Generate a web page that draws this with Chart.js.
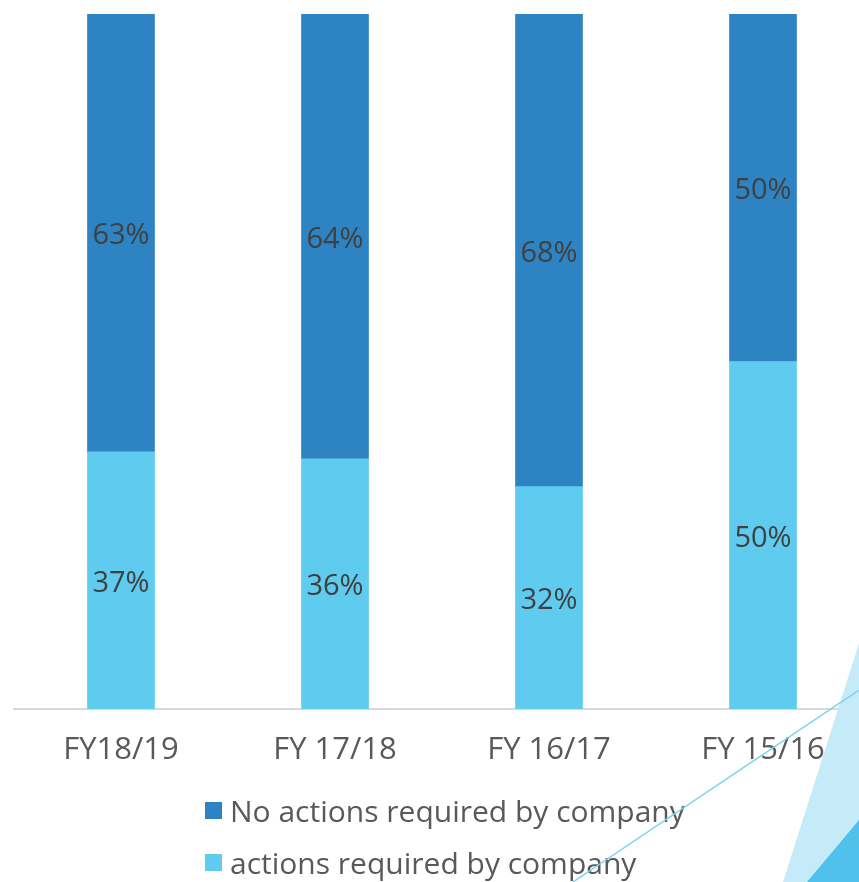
<!DOCTYPE html>
<html>
<head>
<meta charset="utf-8">
<script src="https://cdn.jsdelivr.net/npm/chart.js@4.4.1/dist/chart.umd.min.js"></script>
<style>
  html, body { margin: 0; padding: 0; background: #fff; overflow: hidden; }
  #wrap { position: relative; width: 859px; height: 882px; overflow: hidden; }
  #chart { position: absolute; left: 0; top: 0; }
  #legend { position: absolute; left: 205px; top: 790px; font-family: "Open Sans", sans-serif; font-size: 30px; color: #595959; }
  .item { display: flex; align-items: center; height: 40px; margin-bottom: 12px; }
  .box { width: 17px; height: 17px; margin-right: 8px; }
  #deco { position: absolute; left: 0; top: 0; pointer-events: none; }
</style>
</head>
<body>
<div id="wrap">
  <canvas id="chart" width="884" height="882"></canvas>
  <div id="legend"></div>
  <svg id="deco" width="859" height="882">
    <polygon points="859,643 783,882 859,882" fill="#C6EBF8"/>
    <polygon points="859,820 807,882 859,882" fill="#4FC1EA"/>
    <line x1="573" y1="882" x2="859" y2="690" stroke="#7FD2F0" stroke-width="1.5"/>
  </svg>
</div>
<script>
// --- data ---
const years = ['FY18/19', 'FY 17/18', 'FY 16/17', 'FY 15/16'];
const actionsRequired = [37, 36, 32, 50];
const noActionsRequired = [63, 64, 68, 50];

const DARK = '#2E83C3';
const LIGHT = '#5ECBEF';

// draws the % values in the middle of each segment
const segmentLabels = {
    id: 'segmentLabels',
    afterDatasetsDraw(chart) {
        const ctx = chart.ctx;
        ctx.save();
        ctx.font = '29px "Open Sans", sans-serif';
        ctx.fillStyle = '#404040';
        ctx.textAlign = 'center';
        ctx.textBaseline = 'middle';
        chart.data.datasets.forEach((ds, i) => {
            chart.getDatasetMeta(i).data.forEach((bar, j) => {
                ctx.fillText(ds.data[j] + '%', bar.x, (bar.y + bar.base) / 2 + 3);
            });
        });
        ctx.restore();
    }
};

const chart = new Chart(document.getElementById('chart').getContext('2d'), {
    type: 'bar',
    data: {
        labels: years,
        datasets: [{
            label: 'actions required by company',
            data: actionsRequired,
            backgroundColor: LIGHT
        }, {
            label: 'No actions required by company',
            data: noActionsRequired,
            backgroundColor: DARK
        }]
    },
    options: {
        responsive: false,
        animation: false,
        layout: { padding: { top: 14, left: 14, right: 14 } },
        plugins: { legend: { display: false }, tooltip: { enabled: false } },
        datasets: { bar: { barThickness: 67 } },
        scales: {
            x: {
                stacked: true,
                grid: { display: false, drawTicks: false },
                border: { color: '#D9D9D9', width: 2 },
                ticks: {
                    padding: 23,
                    color: '#595959',
                    font: { family: '"Open Sans", sans-serif', size: 31 }
                },
                afterFit(scale) { scale.height = 173; }
            },
            y: {
                stacked: true,
                display: false,
                min: 0,
                max: 100
            }
        }
    },
    plugins: [segmentLabels]
});

// legend, top series first like the original
const legend = document.getElementById('legend');
chart.data.datasets.slice().reverse().forEach(ds => {
    const item = document.createElement('div');
    item.className = 'item';
    item.innerHTML = '<span class="box" style="background:' + ds.backgroundColor + '"></span><span>' + ds.label + '</span>';
    legend.appendChild(item);
});
</script>
</body>
</html>
